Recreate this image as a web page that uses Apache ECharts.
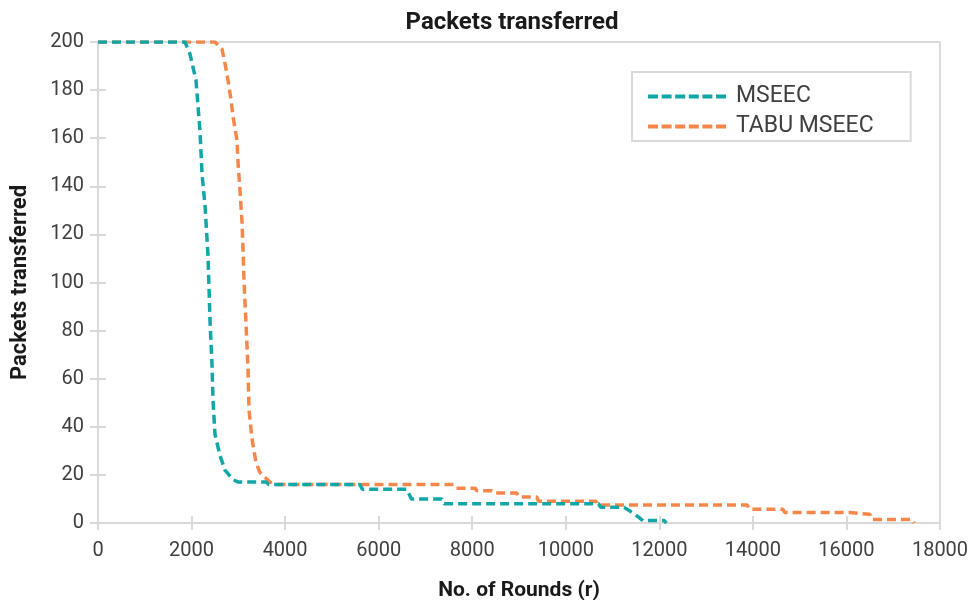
<!DOCTYPE html>
<html><head><meta charset="utf-8">
<script src="https://cdn.jsdelivr.net/npm/echarts@6/dist/echarts.min.js"></script>
<style>html,body{margin:0;padding:0;background:#fff}#c{width:975px;height:600px}</style>
</head><body><div id="c"></div>
<script>
const seriesNames = ['MSEEC', 'TABU MSEEC'];
const xTicks = [0, 2000, 4000, 6000, 8000, 10000, 12000, 14000, 16000, 18000];
const yTicks = [0, 20, 40, 60, 80, 100, 120, 140, 160, 180, 200];
// [rounds, packets]
const mseec = [
  [0,200],[1860,200],[1967,195],[2095,184],[2180,163],[2224,145],[2288,132],[2352,111],
  [2395,84],[2437,66],[2459,51],[2500,37],[2608,28],[2715,22],[2886,18],[3000,17],[3600,17],
  [3650,16],[5600,16],[5650,14],[6600,14],[6700,10],[7350,10],[7400,8],[10700,8],[10750,6.5],
  [11250,6.5],[11450,4],[11650,1],[12100,1],[12150,0]
];
const tabu = [
  [0,200],[2500,200],[2651,197],[2715,191],[2780,184],[2843,176],[2886,169],[2972,159],
  [2993,150],[3036,138],[3079,125],[3100,114],[3122,100],[3164,83],[3207,64],[3228,47],
  [3292,35],[3378,25],[3463,21],[3677,17],[3800,16],[7600,16],[7650,14.5],[8060,14.5],
  [8100,13.4],[8420,13.4],[8460,12.5],[8950,12.5],[9000,10.8],[9380,10.8],[9420,9],
  [10650,9],[10700,7.5],[13880,7.5],[13930,5.7],[14640,5.7],[14680,4.4],[16070,4.4],
  [16110,3.6],[16500,3.6],[16540,1.5],[17400,1.5],[17450,0]
];
const colors = ['#13a6a6', '#f5874a'];
const axisGray = '#d9d9d9';
const labelFont = {fontFamily: 'Roboto', fontSize: 20, color: '#404040'};
const dashIcon = 'path://M0,0H10V4H0Z M13.6,0H23.6V4H13.6Z M27.2,0H37.2V4H27.2Z M40.8,0H50.8V4H40.8Z M54.4,0H64.4V4H54.4Z M68,0H78V4H68Z';
const chart = echarts.init(document.getElementById('c'), null, {renderer: 'canvas'});
chart.setOption({
  animation: false,
  title: {text: 'Packets transferred', left: 507, top: 6, textAlign: 'center',
    textStyle: {fontFamily: 'Roboto', fontSize: 24, fontWeight: 'bold', color: '#1a1a1a'}},
  grid: {left: 98, right: 35, top: 42, bottom: 77, show: true, borderColor: axisGray, borderWidth: 2,
    containLabel: false, outerBoundsMode: 'none'},
  legend: {orient: 'vertical', left: 632, top: 72, padding: [13, 37, 3, 16], itemGap: 7,
    itemWidth: 78, itemHeight: 4, symbolKeepAspect: false, borderColor: axisGray, borderWidth: 2,
    textStyle: {fontFamily: 'Roboto', fontSize: 23, color: '#404040', padding: [0, 0, 0, 5]},
    data: [{name: seriesNames[0], icon: dashIcon}, {name: seriesNames[1], icon: dashIcon}]},
  xAxis: [{type: 'value', min: 0, max: 18000, interval: 2000, position: 'bottom',
    name: 'No. of Rounds (r)', nameLocation: 'middle', nameGap: 57,
    nameTextStyle: {fontFamily: 'Roboto', fontSize: 21, fontWeight: 'bold', color: '#1a1a1a'},
    axisLine: {show: true, lineStyle: {color: axisGray, width: 2}},
    axisTick: {show: true, inside: true, length: 7, lineStyle: {color: axisGray, width: 2}},
    axisLabel: Object.assign({margin: 18, formatter: v => String(v)}, labelFont),
    splitLine: {show: false}},
   {type: 'value', min: 0, max: 18000, interval: 2000, position: 'top',
    axisLine: {show: true, lineStyle: {color: axisGray, width: 2}},
    axisTick: {show: true, inside: true, length: 7, lineStyle: {color: axisGray, width: 2}},
    axisLabel: {show: false}, splitLine: {show: false}}],
  yAxis: [{type: 'value', min: 0, max: 200, interval: 20, position: 'left',
    name: 'Packets transferred', nameLocation: 'middle', nameGap: 67, nameRotate: 90,
    nameTextStyle: {fontFamily: 'Roboto', fontSize: 22, fontWeight: 'bold', color: '#1a1a1a'},
    axisLine: {show: true, lineStyle: {color: axisGray, width: 2}},
    axisTick: {show: true, inside: true, length: 8, lineStyle: {color: axisGray, width: 2}},
    axisLabel: Object.assign({margin: 14}, labelFont),
    splitLine: {show: false}},
   {type: 'value', min: 0, max: 200, interval: 20, position: 'right',
    axisLine: {show: true, lineStyle: {color: axisGray, width: 2}},
    axisTick: {show: true, inside: true, length: 8, lineStyle: {color: axisGray, width: 2}},
    axisLabel: {show: false}, splitLine: {show: false}}],
  series: [
    {name: seriesNames[0], type: 'line', data: mseec, showSymbol: false, symbol: 'none',
      xAxisIndex: 0, yAxisIndex: 0, z: 3,
      lineStyle: {color: colors[0], width: 3.5, type: [9, 5]}, itemStyle: {color: colors[0]}},
    {name: seriesNames[1], type: 'line', data: tabu, showSymbol: false, symbol: 'none',
      xAxisIndex: 0, yAxisIndex: 0, z: 2,
      lineStyle: {color: colors[1], width: 3.5, type: [9, 5]}, itemStyle: {color: colors[1]}}
  ]
});
</script></body></html>
